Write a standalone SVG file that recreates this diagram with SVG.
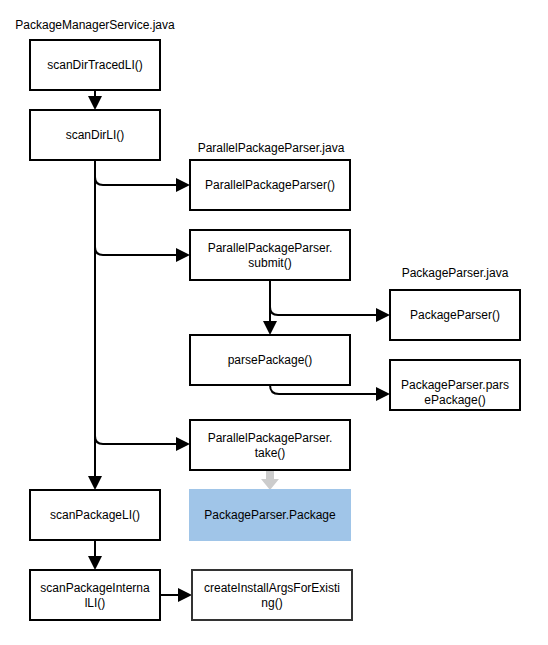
<svg xmlns="http://www.w3.org/2000/svg" width="548" height="645" viewBox="0 0 548 645">
<defs>
<style>
.box{fill:#fff;stroke:#000;stroke-width:2}
.t{font-family:"Liberation Sans",Arial,sans-serif;font-size:12px;fill:#000;text-anchor:middle}
.c{fill:none;stroke:#000;stroke-width:2}
</style>
</defs>
<rect width="548" height="645" fill="#fff"/>
<g id="labels">
<text class="t" x="95" y="29">PackageManagerService.java</text>
<text class="t" x="271" y="152">ParallelPackageParser.java</text>
<text class="t" x="455" y="277">PackageParser.java</text>
</g>
<g id="connectors">
<path class="c" d="M95,90 L95,100"/>
<path class="c" d="M95,160 L95,480"/>
<path class="c" d="M95,177 Q95,185 103,185 L180,185"/>
<path class="c" d="M95,247 Q95,255 103,255 L180,255"/>
<path class="c" d="M95,436 Q95,444 103,444 L180,444"/>
<path class="c" d="M270,280 L270,325"/>
<path class="c" d="M270,307 Q270,315 278,315 L380,315"/>
<path class="c" d="M270,385 Q270,394 279,394 L380,394"/>
<path class="c" d="M95,540 L95,560"/>
<path class="c" d="M160,595 L182,595"/>
<g fill="#000">
<polygon points="88,96 102,96 95,110"/>
<polygon points="176,178 190,185 176,192"/>
<polygon points="176,248 190,255 176,262"/>
<polygon points="176,437 190,444 176,451"/>
<polygon points="88,476 102,476 95,490"/>
<polygon points="263,321 277,321 270,335"/>
<polygon points="376,308 390,315 376,322"/>
<polygon points="376,387 390,394 376,401"/>
<polygon points="88,556 102,556 95,570"/>
<polygon points="178,588 192,595 178,602"/>
</g>
<polygon points="266,470 274,470 274,479 279,479 270,490 261,479 266,479" fill="#CCCCCC"/>
</g>
<g id="n1"><rect class="box" x="30" y="40" width="130" height="50"/><text class="t" x="95" y="69">scanDirTracedLI()</text></g>
<g id="n2"><rect class="box" x="30" y="110" width="130" height="50"/><text class="t" x="95" y="139">scanDirLI()</text></g>
<g id="n3"><rect class="box" x="190" y="160" width="160" height="50"/><text class="t" x="270" y="189">ParallelPackageParser()</text></g>
<g id="n4"><rect class="box" x="190" y="230" width="160" height="50"/><text class="t" x="270" y="252">ParallelPackageParser.</text><text class="t" x="270" y="267">submit()</text></g>
<g id="n5"><rect class="box" x="390" y="290" width="130" height="50"/><text class="t" x="455" y="319">PackageParser()</text></g>
<g id="n6"><rect class="box" x="190" y="335" width="160" height="50"/><text class="t" x="270" y="364">parsePackage()</text></g>
<g id="n7"><rect class="box" x="390" y="360" width="130" height="50"/><text class="t" x="455" y="389">PackageParser.pars</text><text class="t" x="455" y="404">ePackage()</text></g>
<g id="n8"><rect class="box" x="190" y="420" width="160" height="50"/><text class="t" x="270" y="442">ParallelPackageParser.</text><text class="t" x="270" y="457">take()</text></g>
<g id="n9"><rect x="189" y="489" width="162" height="52" fill="#A0C5E8"/><text class="t" x="270" y="519">PackageParser.Package</text></g>
<g id="n10"><rect class="box" x="30" y="490" width="130" height="50"/><text class="t" x="95" y="519">scanPackageLI()</text></g>
<g id="n11"><rect class="box" x="30" y="570" width="130" height="50"/><text class="t" x="95" y="592">scanPackageInterna</text><text class="t" x="95" y="607">lLI()</text></g>
<g id="n12"><rect class="box" x="192" y="570" width="160" height="50" style="stroke:#333"/><text class="t" x="272" y="592">createInstallArgsForExisti</text><text class="t" x="272" y="607">ng()</text></g>
</svg>
